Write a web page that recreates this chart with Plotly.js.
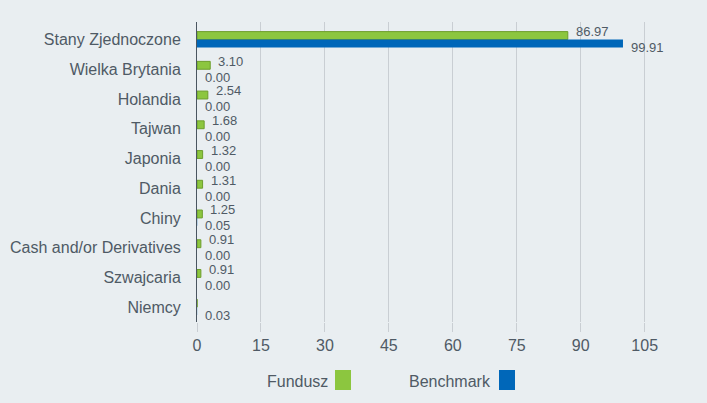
<!DOCTYPE html>
<html>
<head>
<meta charset="utf-8">
<script src="https://cdn.plot.ly/plotly-3.0.1.min.js"></script>
<style>html,body{margin:0;padding:0;background:#e9eef1;}</style>
</head>
<body>
<div id="chart" style="width:707px;height:403px;"></div>
<script>
const categories = ["Stany Zjednoczone","Wielka Brytania","Holandia","Tajwan","Japonia","Dania","Chiny","Cash and/or Derivatives","Szwajcaria","Niemcy"];
const fundusz = [86.97, 3.10, 2.54, 1.68, 1.32, 1.31, 1.25, 0.91, 0.91, 0.02];
const fundLabels = ["86.97","3.10","2.54","1.68","1.32","1.31","1.25","0.91","0.91",""];
const benchmark = [99.91, 0.00, 0.00, 0.00, 0.00, 0.00, 0.05, 0.00, 0.00, 0.03];
const benchLabels = benchmark.map(v => v.toFixed(2));
const xTicks = [0,15,30,45,60,75,90,105];

const green = "#8cc63f", greenLine = "#6d9e2c", blue = "#0067b9";
const txt = "#4f5a65";
const FONT = "Liberation Sans, Arial, sans-serif";

const traces = [
  {type:"bar", orientation:"h", name:"Fundusz", y:categories, x:fundusz,
   marker:{color:green, line:{color:greenLine, width:1}}, hoverinfo:"x"},
  {type:"bar", orientation:"h", name:"Benchmark", y:categories, x:benchmark,
   marker:{color:blue, line:{color:blue, width:0}}, hoverinfo:"x"}
];

const annotations = [];
categories.forEach((c,i)=>{
  if (fundLabels[i]) annotations.push({x:fundusz[i], y:c, xref:"x", yref:"y", text:fundLabels[i],
    showarrow:false, xanchor:"left", yanchor:"middle", xshift:6, yshift:8,
    font:{family:FONT, size:13, color:txt}});
  annotations.push({x:benchmark[i], y:c, xref:"x", yref:"y", text:benchLabels[i],
    showarrow:false, xanchor:"left", yanchor:"middle", xshift:6, yshift:-8,
    font:{family:FONT, size:13, color:txt}});
});
// partially visible title (cut off at the top edge, as in the reference)
annotations.push({xref:"paper", yref:"paper", x:(467-197)/469, y:1.0, yshift:20, xanchor:"center", yanchor:"bottom",
  text:"<b>(%)</b>", showarrow:false, font:{family:FONT, size:18, color:"#333"}});

const shapes = [];
function legendItem(name, color, textRightPx, rectLeftPx){
  annotations.push({xref:"paper", yref:"paper", x:(textRightPx-197)/469, y:-(381-322)/300,
    xanchor:"right", yanchor:"middle", text:name, showarrow:false,
    font:{family:FONT, size:16, color:txt}});
  shapes.push({type:"rect", xref:"paper", yref:"paper", x0:(rectLeftPx-197)/469, x1:(rectLeftPx+16-197)/469,
    y0:-(390-322)/300, y1:-(370-322)/300, fillcolor:color, line:{width:0}});
}
legendItem(traces[0].name, green, 330, 335);
legendItem(traces[1].name, blue, 493, 499);

const layout = {
  width:707, height:403,
  paper_bgcolor:"#e9eef1", plot_bgcolor:"#e9eef1",
  margin:{l:197, r:41, t:22, b:81},
  barmode:"group", bargap:0.47, bargroupgap:0,
  showlegend:false,
  font:{family:FONT, color:txt},
  xaxis:{range:[0,110], tickvals:xTicks, ticktext:xTicks.map(String),
    showgrid:true, gridcolor:"#c9ced3", gridwidth:1, zeroline:false,
    ticks:"outside", ticklen:9, tickcolor:"#c9ced3",
    tickfont:{size:16, color:txt}, fixedrange:true},
  yaxis:{autorange:"reversed", showline:true, linecolor:"#4a5560", linewidth:1,
    ticks:"", ticklen:0, tickfont:{size:16, color:txt}, automargin:false, ticklabelstandoff:12},
  annotations:annotations, shapes:shapes
};
Plotly.newPlot("chart", traces, layout, {displayModeBar:false, staticPlot:true});
</script>
</body>
</html>
